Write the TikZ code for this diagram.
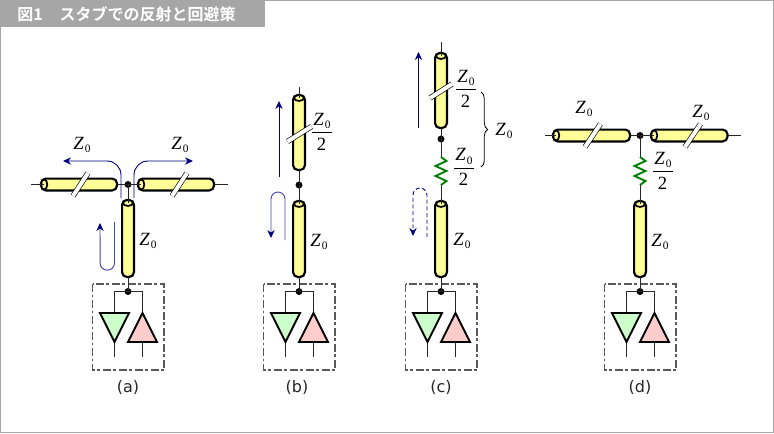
\documentclass[tikz,border=0pt]{standalone}
\usepackage{fontspec}
\setmainfont{Liberation Serif}
\newfontfamily\labfont{DejaVu Sans}
\newfontfamily\cjkfont{Noto Sans CJK JP}[BoldFont={Noto Sans CJK JP Bold}]
\usetikzlibrary{arrows.meta,decorations.pathreplacing,calc,shapes.geometric}
\definecolor{tubey}{HTML}{FFFF99}
\definecolor{flow}{HTML}{000080}
\definecolor{flowl}{HTML}{4646A8}
\definecolor{rgreen}{HTML}{008000}
\definecolor{drvg}{HTML}{CCFFCC}
\definecolor{drvp}{HTML}{FFCCCC}
\definecolor{barg}{HTML}{A6A6A6}
\tikzset{
  x=0.75pt,y=-0.75pt,
  wire/.style={line width=0.75pt,black!85},
  tubebody/.style={draw=black,fill=tubey,line width=1.6pt,rounded corners=3.6pt,inner sep=0pt,outer sep=0pt},
  vtubeshape/.style={tubebody,minimum width=8.9pt},
  htubeshape/.style={tubebody,minimum height=8.9pt},
  capshape/.style={draw=black,fill=tubey,line width=1.3pt,ellipse,inner sep=0pt,outer sep=0pt},
  jdot/.style={circle,fill=black,inner sep=0pt,minimum size=5.2pt},
  cutmark/.style={line width=0.5pt,double=white,double distance=3pt,black},
  flowline/.style={line width=0.7pt,flow,-{Stealth[length=6pt,width=5.5pt]}},
  flowlight/.style={line width=0.7pt,flowl,-{Stealth[length=6pt,width=5.5pt,color=flow]}},
  flowdash/.style={line width=0.7pt,flow,dashed,dash pattern=on 3pt off 2pt,-{Stealth[length=6pt,width=5.5pt,color=flow]}},
  res/.style={line width=1.4pt,rgreen,line join=miter},
  ztext/.style={inner sep=0pt,font=\fontsize{14}{14}\selectfont},
  caption/.style={inner sep=0pt,font=\labfont\fontsize{12}{14}\selectfont,text=black!85},
  unitbox/.style={draw=black!65,line width=0.9pt,dash pattern=on 6pt off 2.2pt on 1.6pt off 2.2pt},
  tri/.style={draw=black,line width=1.4pt,line join=miter},
}
\newcommand{\Zsym}{\textit{Z}\kern0.7pt\raisebox{-2.6pt}{\fontsize{8.5}{8.5}\selectfont 0}}
% \vtubeat{name}{x}{ytop}{ybottom}
\newcommand{\vtubeat}[4]{%
  \node[vtubeshape,minimum height={(#4-#3)*0.75pt}] (#1) at (#2,{(#3+#4)/2}) {};
  \node[capshape,minimum width=7.4pt,minimum height=4.4pt] (#1cap) at (#2,#3+3) {};
}
% \htubeat{name}{xleft}{xright}{y}
\newcommand{\htubeat}[4]{%
  \node[htubeshape,minimum width={(#3-#2)*0.75pt}] (#1) at ({(#2+#3)/2},#4) {};
  \node[capshape,minimum width=4.6pt,minimum height=7.6pt] (#1cap) at (#2+3.2,#4) {};
}
% \driverunit{prefix}{x}
\newcommand{\driverunit}[2]{%
  \node[jdot] (#1j) at (#2,291.5) {};
  \coordinate (#1gt) at (#2-13.5,313);
  \coordinate (#1ga) at (#2-13.5,342);
  \coordinate (#1pa) at (#2+14.5,313);
  \coordinate (#1pb) at (#2+14.5,342);
  \draw[unitbox] (#2-35.5,284) rectangle (#2+36,370);
  \draw[wire] (#1j.center) -| (#1gt);
  \draw[wire] (#1j.center) -| (#1pa);
  \draw[wire] (#1ga) -- +(0,14.5);
  \draw[wire] (#1pb) -- +(0,14.5);
  \draw[tri,fill=drvg] ($(#1gt)+(-14.5,0)$) -- ($(#1gt)+(14.5,0)$) -- (#1ga) -- cycle;
  \draw[tri,fill=drvp] ($(#1pb)+(-14.5,0)$) -- ($(#1pb)+(14.5,0)$) -- (#1pa) -- cycle;
}
% \halfz{prefix}{x}{ybar}
\newcommand{\halfz}[3]{%
  \node[ztext] (#1z) at (#2,#3-11.5) {\Zsym};
  \node[ztext] (#1two) at (#2-0.5,#3+11.5) {2};
  \draw[line width=0.7pt] (#2-10,#3) -- (#2+10,#3);
}
% \zigzag{prefix}{x}
\newcommand{\zigzag}[2]{%
  \coordinate (#1t) at (#2,157);
  \coordinate (#1b) at (#2,185);
  \draw[res] (#1t) -- (#2+5.5,161) -- (#2-5.5,166) -- (#2+5.5,171) -- (#2-5.5,176) -- (#2+5.5,181) -- (#1b);
}
\begin{document}
\begin{tikzpicture}
\useasboundingbox (0,0) rectangle (774,433);
\fill[white] (0,0) rectangle (774,433);
\draw[barg,line width=0.8pt] (0.5,0.5) rectangle (773.5,432.5);
\fill[barg] (0,0) rectangle (265,27);
\node[inner sep=0pt,anchor=west,text=white,font=\cjkfont\bfseries\fontsize{12}{12}\selectfont] (title) at (17,14) {図1\hspace{1.05em}スタブでの反射と回避策};

% ---------- (a)
\coordinate (aL) at (31,184.5);
\coordinate (aR) at (228,184.5);
\node[jdot] (aJ) at (128,184.5) {};
\htubeat{aT1}{41}{117}{184.5}
\htubeat{aT2}{138}{214}{184.5}
\vtubeat{aT3}{128}{200}{277}
\draw[wire] (aL) -- (aT1cap.center);
\draw[wire] (aT1.east) -- (aT2cap.center);
\draw[wire] (aT2.east) -- (aR);
\draw[wire] (aJ.center) -- (aT3cap.center);
\draw[cutmark] (73,196) -- (88,173);
\draw[cutmark] (172,196) -- (187,173);
\driverunit{aD}{128}
\draw[wire] (aT3.south) -- (aDj.center);
\draw[flowline] (121,198) -- (121,175) arc[start angle=0,end angle=-90,radius=14] -- (63,161);
\draw[flowline] (134,198) -- (134,175) arc[start angle=180,end angle=270,radius=14] -- (193,161);
\draw[flowlight] (114.5,222) -- (114.5,263) arc[start angle=0,end angle=180,radius=7.2] -- (100,223);
\node[ztext] (aZ1) at (82,145) {\Zsym};
\node[ztext] (aZ2) at (180,145) {\Zsym};
\node[ztext] (aZ3) at (148,241) {\Zsym};
\node[caption] (aC) at (128,387) {(a)};

% ---------- (b)
\coordinate (bTop) at (299,87);
\vtubeat{bT1}{299}{95}{170}
\vtubeat{bT2}{299}{201}{277}
\node[jdot] (bJ) at (299,185) {};
\draw[wire] (bTop) -- (bT1cap.center);
\draw[wire] (bT1.south) -- (bT2cap.center);
\draw[cutmark] (287.5,141.5) -- (311.5,126.5);
\driverunit{bD}{299}
\draw[wire] (bT2.south) -- (bDj.center);
\draw[flowline] (279,177) -- (279,101);
\draw[flowlight] (285,240) -- (285,199) arc[start angle=0,end angle=-180,radius=7] -- (271,238);
\halfz{bH}{322}{132.5}
\node[ztext] (bZ) at (319,242) {\Zsym};
\node[caption] (bC) at (297,387) {(b)};

% ---------- (c)
\coordinate (cTop) at (441,42);
\vtubeat{cT1}{441}{53}{128}
\vtubeat{cT2}{441}{201}{277}
\node[jdot] (cJ) at (441,139) {};
\draw[wire] (cTop) -- (cT1cap.center);
\draw[cutmark] (430,98) -- (452,84);
\zigzag{cR}{441}
\draw[wire] (cT1.south) -- (cRt);
\draw[wire] (cRb) -- (cT2cap.center);
\driverunit{cD}{441}
\draw[wire] (cT2.south) -- (cDj.center);
\draw[flowline] (418.5,128) -- (418.5,52);
\draw[flowdash] (427,237) -- (427,195) arc[start angle=0,end angle=-180,radius=7] -- (413,236);
\halfz{cH1}{466}{89.5}
\halfz{cH2}{464}{168}
\draw[line width=0.6pt,decorate,decoration={brace,amplitude=5pt}] (481,92) -- (481,167);
\node[ztext] (cZ1) at (504,131) {\Zsym};
\node[ztext] (cZ2) at (462,241) {\Zsym};
\node[caption] (cC) at (441,387) {(c)};

% ---------- (d)
\coordinate (dL) at (545,135.5);
\coordinate (dR) at (741,135.5);
\node[jdot] (dJ) at (640,135.5) {};
\htubeat{dT1}{553}{630}{135.5}
\htubeat{dT2}{651}{727.5}{135.5}
\vtubeat{dT3}{640}{201}{277}
\draw[wire] (dL) -- (dT1cap.center);
\draw[wire] (dT1.east) -- (dT2cap.center);
\draw[wire] (dT2.east) -- (dR);
\draw[cutmark] (585,147) -- (600.5,124);
\draw[cutmark] (685,147) -- (700.5,124);
\zigzag{dR1}{640}
\draw[wire] (dJ.center) -- (dR1t);
\draw[wire] (dR1b) -- (dT3cap.center);
\driverunit{dD}{640}
\draw[wire] (dT3.south) -- (dDj.center);
\halfz{dH}{663}{171.7}
\node[ztext] (dZ1) at (584,109) {\Zsym};
\node[ztext] (dZ2) at (701,113) {\Zsym};
\node[ztext] (dZ3) at (660,242) {\Zsym};
\node[caption] (dC) at (640,387) {(d)};
\end{tikzpicture}
\end{document}
